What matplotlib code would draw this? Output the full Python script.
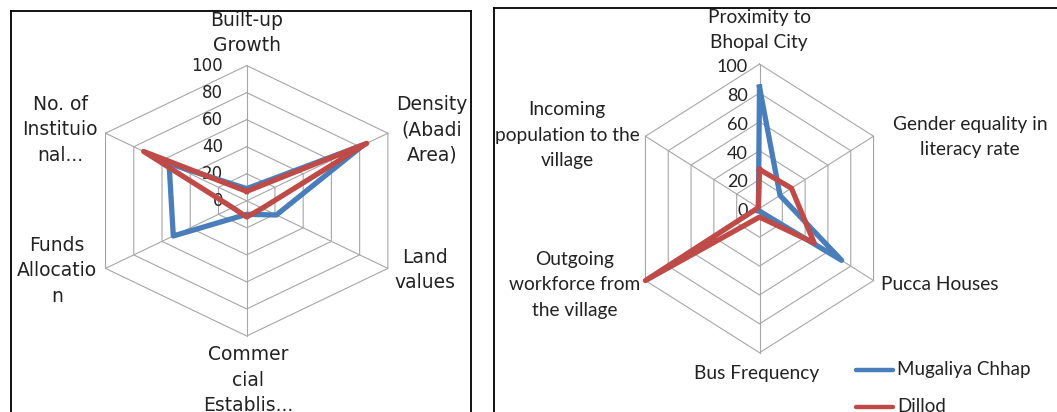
import matplotlib
matplotlib.use("Agg")
import matplotlib.pyplot as plt
import numpy as np

# ---- data ----
left_cats = ["Built-up\nGrowth", "Density\n(Abadi\nArea)", "Land\nvalues",
             "Commer\ncial\nEstablis...", "Funds\nAllocatio\nn", "No. of\nInstituio\nnal..."]
left_blue = [9, 83, 21, 10, 52, 55]
left_red = [7, 85, 11, 12, 10, 73]

right_cats = ["Proximity to\nBhopal City", "Gender equality in\nliteracy rate", "Pucca Houses",
              "Bus Frequency", "Outgoing\nworkforce from\nthe village",
              "Incoming\npopulation to the\nvillage"]
right_blue = [84, 18, 72, 2, 3, 1]
right_red = [27, 28, 48, 6, 100, 1]

series_names = ["Mugaliya Chhap", "Dillod"]
ticks = [0, 20, 40, 60, 80, 100]

# ---- style / layout ----
W, H = 1057, 412
BLUE = "#4a7ebb"
RED = "#be4b48"
GRID = "#a6a6a6"
LEFT_FONT = ["DejaVu Sans"]
RIGHT_FONT = ["Lato", "DejaVu Sans"]

fig = plt.figure(figsize=(W / 100, H / 100), dpi=100)


def panel(box, centre, scale):
    # box is (x0, y0, x1, y1) in pixels, y counted from the top
    x0, y0, x1, y1 = box
    ax = fig.add_axes([x0 / W, 1 - y1 / H, (x1 - x0) / W, (y1 - y0) / H])
    cx, cy = centre
    sx, sy = scale
    ax.set_xlim((x0 - cx) / sx, (x1 - cx) / sx)
    ax.set_ylim((cy - y1) / sy, (cy - y0) / sy)
    ax.set_xticks([])
    ax.set_yticks([])
    for s in ax.spines.values():
        s.set_color("black")
        s.set_linewidth(1.3)

    def to_data(px, py):
        return (px - cx) / sx, (cy - py) / sy
    return ax, to_data


def radar(ax, values_list):
    n = len(values_list[0])
    ang = np.arange(n) * 2 * np.pi / n
    ux, uy = np.sin(ang), np.cos(ang)
    for r in ticks[1:]:
        ax.plot(np.append(r * ux, r * ux[0]), np.append(r * uy, r * uy[0]),
                color=GRID, lw=0.8, zorder=1)
    for a, b in zip(ux, uy):
        ax.plot([0, ticks[-1] * a], [0, ticks[-1] * b], color=GRID, lw=0.8, zorder=1)
    for vals, col in zip(values_list, [BLUE, RED]):
        v = np.array(vals + vals[:1], dtype=float)
        x = v * np.append(ux, ux[0])
        y = v * np.append(uy, uy[0])
        ax.plot(x, y, color=col, lw=3.8, solid_joinstyle="round", zorder=3)


# ---- left chart ----
axL, pL = panel((11, 11, 471, 440), (246.7, 200.8), (1.63, 1.352))
radar(axL, [left_blue, left_red])
for t in ticks:
    x, y = pL(223, 0)
    axL.text(x, t, str(t), ha="right", va="center", fontsize=12,
             family=LEFT_FONT, color="#222222", zorder=2)
left_pos = [(247, 33, "center"), (432, 130, "center"), (425, 270, "center"),
            (248, 380, "center"), (57, 271, "center"), (60, 130, "center")]
for lab, (px, py, ha) in zip(left_cats, left_pos):
    x, y = pL(px, py)
    axL.text(x, y, lab, ha=ha, va="center", multialignment="center",
             fontsize=13.5, linespacing=1.42, family=LEFT_FONT, color="#222222")

# ---- right chart ----
axR, pR = panel((494, 8, 1065, 440), (759.5, 208.4), (1.317, 1.443))
radar(axR, [right_blue, right_red])
for t in ticks:
    x, _ = pR(748, 0)
    axR.text(x, t - 2, str(t), ha="right", va="center", fontsize=13,
             family=RIGHT_FONT, color="#222222", zorder=2)
right_pos = [(759, 30, "center"), (970, 137, "center"), (881, 285, "left"),
             (757, 374, "center"), (575, 285, "center"), (567, 135, "center")]
for lab, (px, py, ha) in zip(right_cats, right_pos):
    x, y = pR(px, py)
    axR.text(x, y, lab, ha=ha, va="center", multialignment="center",
             fontsize=13.8, linespacing=1.62, family=RIGHT_FONT, color="#222222")

# legend
for i, (name, col) in enumerate(zip(series_names, [BLUE, RED])):
    ly = 370 + 37 * i
    xa, ya = pR(856, ly)
    xb, _ = pR(893, ly)
    axR.plot([xa, xb], [ya, ya], color=col, lw=3.2, solid_capstyle="round")
    xt, _ = pR(897, ly)
    axR.text(xt, ya, name, ha="left", va="center", fontsize=13.5,
             family=RIGHT_FONT, color="#222222")

fig.savefig("out.png", dpi=100)
